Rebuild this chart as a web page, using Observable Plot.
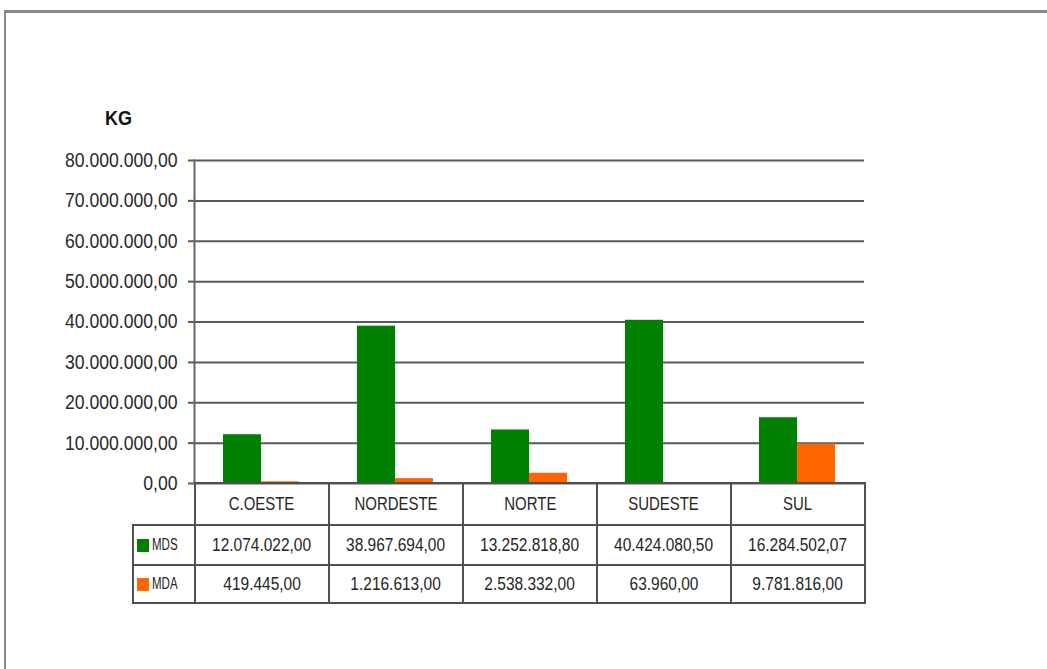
<!DOCTYPE html>
<html>
<head>
<meta charset="utf-8">
<script src="https://cdn.jsdelivr.net/npm/d3@7"></script>
<script src="https://cdn.jsdelivr.net/npm/@observablehq/plot@0.6"></script>
<style>
  html, body { margin: 0; padding: 0; background: #fff; overflow: hidden; width: 1047px; height: 669px; }
  #root { position: relative; width: 1047px; height: 669px; font-family: "Liberation Sans", Arial, sans-serif; }
  #border { position: absolute; left: 4px; top: 10px; width: 2000px; height: 2000px; border-top: 3px solid #8a8a8a; border-left: 2px solid #8a8a8a; }
  #chart { position: absolute; left: 0; top: 0; }
  #unit { position: absolute; left: 105px; top: 107px; font-weight: bold; font-size: 20px; color: #111; transform: scaleX(0.9); transform-origin: left center; }
  #table { position: absolute; left: 132px; top: 482px; border-collapse: collapse; table-layout: fixed; color: #262626; }
  #table td { border: 2px solid #505050; text-align: center; padding: 0; font-size: 18px; box-sizing: border-box; white-space: nowrap; }
  #table td span.txt { display: inline-block; transform: scaleX(0.86); transform-origin: center center; }
  #table td.head span.txt { transform: scaleX(0.83); }
  #table td.blank { border: none; }
  #table td.lab { text-align: left; font-size: 16px; padding-left: 3px; }
  #table td.lab span.key { display: inline-block; width: 12px; height: 13px; margin-right: 3px; vertical-align: -2px; }
  #table td.lab span.lt { display: inline-block; transform: scaleX(0.72); transform-origin: left center; }
</style>
</head>
<body>
<div id="root">
  <div id="border"></div>
  <div id="chart"></div>
  <div id="unit">KG</div>
  <table id="table"></table>
</div>
<script>
const regions = ["C.OESTE", "NORDESTE", "NORTE", "SUDESTE", "SUL"];
const series = ["MDS", "MDA"];
const colors = ["#008000", "#ff6600"];
const mds = [12074022.00, 38967694.00, 13252818.80, 40424080.50, 16284502.07];
const mda = [419445.00, 1216613.00, 2538332.00, 63960.00, 9781816.00];
const yTicks = [0, 10000000, 20000000, 30000000, 40000000, 50000000, 60000000, 70000000, 80000000];
const unitLabel = "KG";

const ptBR = d3.formatLocale({decimal: ",", thousands: ".", grouping: [3], currency: ["R$", ""]});
const fmt = ptBR.format(",.2f");

const values = {MDS: mds, MDA: mda};
const data = [];
series.forEach(s => regions.forEach((r, i) => data.push({region: r, series: s, value: values[s][i]})));

const fontFamily = '"Liberation Sans", Arial, sans-serif';

const chart = Plot.plot({
  width: 1047,
  height: 669,
  marginLeft: 194,
  marginRight: 183,
  marginTop: 160,
  marginBottom: 186,
  style: {fontFamily, fontSize: "20px", background: "transparent"},
  fx: {domain: regions, padding: 0, axis: null},
  x: {domain: series, paddingInner: 0, paddingOuter: 0.75, axis: null},
  y: {domain: [0, 80000000], axis: null},
  color: {domain: series, range: colors},
  marks: [
    Plot.ruleY(yTicks, {stroke: "#5a5a5a", strokeWidth: 2}),
    Plot.barY(data, {fx: "region", x: "series", y: "value", fill: "series"}),
    Plot.axisY({ticks: yTicks, tickFormat: fmt, tickSize: 6, tickPadding: 11, stroke: "#5a5a5a", strokeWidth: 2, fill: "#2a2a2a", fontSize: 20, label: null}),
    Plot.frame({anchor: "left", facet: "super", stroke: "#666", strokeWidth: 2})
  ]
});
document.getElementById("chart").appendChild(chart);
// condense the axis labels to match the narrow typeface of the original
chart.querySelectorAll("text").forEach(t => {
  const len = t.getComputedTextLength();
  if (len > 0) { t.setAttribute("textLength", (len * 0.88).toFixed(1)); t.setAttribute("lengthAdjust", "spacingAndGlyphs"); }
});
document.getElementById("unit").textContent = unitLabel;

// data table
const table = document.getElementById("table");
const colW = [62, 134, 134, 134, 134, 134];
const cg = document.createElement("colgroup");
colW.forEach(w => { const c = document.createElement("col"); c.style.width = w + "px"; cg.appendChild(c); });
table.appendChild(cg);
const cell = (text, cls) => {
  const td = document.createElement("td");
  if (cls) td.className = cls;
  const sp = document.createElement("span"); sp.className = "txt"; sp.textContent = text;
  td.appendChild(sp);
  return td;
};
const head = document.createElement("tr");
head.style.height = "42px";
const blank = document.createElement("td"); blank.className = "blank"; head.appendChild(blank);
regions.forEach(r => head.appendChild(cell(r, "head")));
table.appendChild(head);
series.forEach((s, k) => {
  const tr = document.createElement("tr");
  tr.style.height = k === 0 ? "40px" : "38px";
  const lab = document.createElement("td"); lab.className = "lab";
  const key = document.createElement("span"); key.className = "key"; key.style.background = colors[k];
  const lt = document.createElement("span"); lt.className = "lt"; lt.textContent = s;
  lab.appendChild(key); lab.appendChild(lt);
  tr.appendChild(lab);
  values[s].forEach(v => tr.appendChild(cell(fmt(v))));
  table.appendChild(tr);
});
</script>
</body>
</html>
